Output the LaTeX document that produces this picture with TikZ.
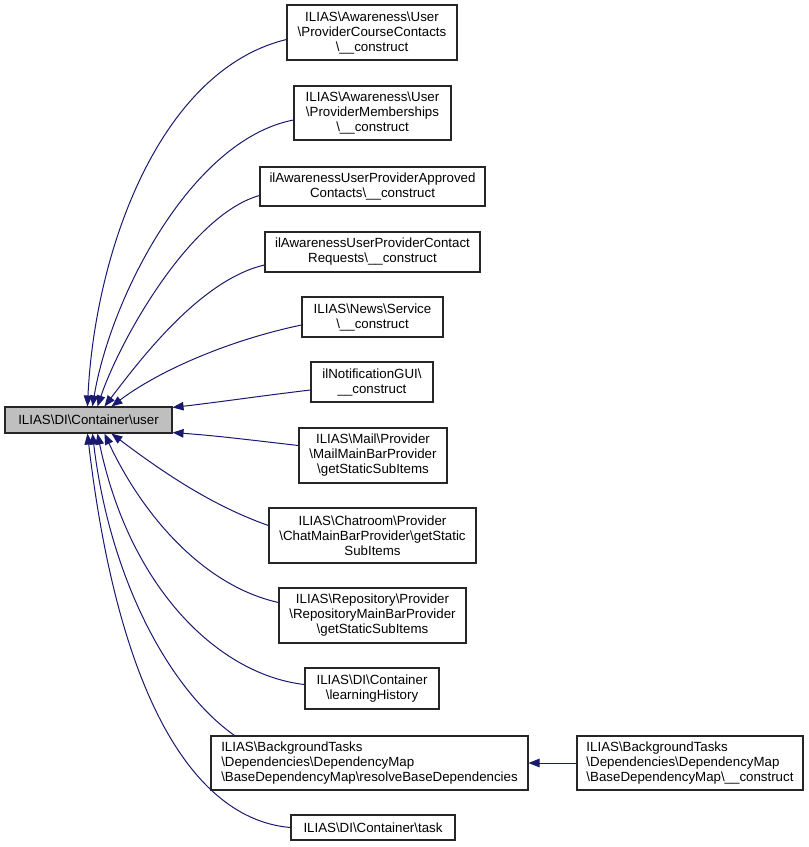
\documentclass[tikz,border=0pt]{standalone}
\usepackage{fontspec}
\setmainfont{Liberation Sans}
\usetikzlibrary{arrows.meta,calc}
\newcommand{\bsl}{\textbackslash}
\definecolor{edgeblue}{HTML}{191970}
\begin{document}
\begin{tikzpicture}[x=1pt,y=-1pt,
  box/.style={draw=black!85,line width=1.1pt,inner sep=0pt,align=center,
    font=\fontsize{13.3}{15}\selectfont},
  lbox/.style={box,align=left},
  edge/.style={draw=edgeblue,line width=1pt,-{Triangle[length=11pt,width=8.5pt]}}]
\path[use as bounding box,fill=white] (0,0) rectangle (809,847);
\node[box,fill=black!25,minimum width=167pt,minimum height=26pt] (user) at (88.5,420) {ILIAS\bsl DI\bsl Container\bsl user};
\node[box,minimum width=170pt,minimum height=55pt] (n1) at (372,32.5) {ILIAS\bsl Awareness\bsl User\\\bsl ProviderCourseContacts\\\bsl\_\_construct};
\node[box,minimum width=157pt,minimum height=54pt] (n2) at (372.5,113) {ILIAS\bsl Awareness\bsl User\\\bsl ProviderMemberships\\\bsl\_\_construct};
\node[box,minimum width=225pt,minimum height=39pt] (n3) at (372.5,186.5) {ilAwarenessUserProviderApproved\\Contacts\bsl\_\_construct};
\node[box,minimum width=215pt,minimum height=40pt] (n4) at (372.5,252) {ilAwarenessUserProviderContact\\Requests\bsl\_\_construct};
\node[box,minimum width=141pt,minimum height=40pt] (n5) at (372.5,317) {ILIAS\bsl News\bsl Service\\\bsl\_\_construct};
\node[box,minimum width=122pt,minimum height=40pt] (n6) at (372,382) {ilNotificationGUI\bsl\\\_\_construct};
\node[box,minimum width=148pt,minimum height=55pt] (n7) at (373,455.5) {ILIAS\bsl Mail\bsl Provider\\\bsl MailMainBarProvider\\\bsl getStaticSubItems};
\node[box,minimum width=207pt,minimum height=55pt] (n8) at (372.5,535.5) {ILIAS\bsl Chatroom\bsl Provider\\\bsl ChatMainBarProvider\bsl getStatic\\SubItems};
\node[box,minimum width=187pt,minimum height=55pt] (n9) at (372.5,615.5) {ILIAS\bsl Repository\bsl Provider\\\bsl RepositoryMainBarProvider\\\bsl getStaticSubItems};
\node[box,minimum width=134pt,minimum height=41pt] (n10) at (372,688.5) {ILIAS\bsl DI\bsl Container\\\bsl learningHistory};
\node[lbox,minimum width=317pt,minimum height=54pt] (n11) at (369.5,763) {ILIAS\bsl BackgroundTasks\\\bsl Dependencies\bsl DependencyMap\\\bsl BaseDependencyMap\bsl resolveBaseDependencies};
\node[lbox,minimum width=226pt,minimum height=54pt] (n12) at (690,763) {ILIAS\bsl BackgroundTasks\\\bsl Dependencies\bsl DependencyMap\\\bsl BaseDependencyMap\bsl\_\_construct};
\node[box,minimum width=164pt,minimum height=25pt] (n13) at (373,827.5) {ILIAS\bsl DI\bsl Container\bsl task};
% edges
\draw[edge] ($(n1.west)+(0,7)$) .. controls (160,70) and (95,250) .. ($(user.north west)+(83,0)$);
\draw[edge] ($(n2.west)+(0,7)$) .. controls (190,140) and (110,300) .. ($(user.north west)+(88,0)$);
\draw[edge] ($(n3.west)+(0,9)$) .. controls (190,215) and (120,340) .. ($(user.north west)+(93,0)$);
\draw[edge] ($(n4.west)+(0,13)$) .. controls (200,280) and (140,360) .. ($(user.north west)+(100,0)$);
\draw[edge] ($(n5.west)+(0,8)$) .. controls (230,340) and (160,370) .. ($(user.north west)+(107,0)$);
\draw[edge] ($(n6.west)+(0,8)$) .. controls (260,396) and (220,402) .. ($(user.north east)+(0,1)$);
\draw[edge] ($(n7.west)+(0,-10)$) .. controls (250,440) and (220,436) .. ($(user.south east)+(0,-1)$);
\draw[edge] ($(n8.west)+(0,-10)$) .. controls (210,505) and (160,470) .. ($(user.south west)+(107,0)$);
\draw[edge] ($(n9.west)+(0,-13)$) .. controls (200,585) and (140,510) .. ($(user.south west)+(100,0)$);
\draw[edge] ($(n10.west)+(0,-4)$) .. controls (220,675) and (130,590) .. ($(user.south west)+(93,0)$);
\draw[edge] ($(n11.north west)+(24,0)$) .. controls (170,690) and (110,580) .. ($(user.south west)+(88,0)$);
\draw[edge] ($(n13.west)+(0,0)$) .. controls (200,820) and (120,710) .. ($(user.south west)+(83,0)$);
\draw[edge] (n12.west) -- (n11.east);
\end{tikzpicture}
\end{document}
